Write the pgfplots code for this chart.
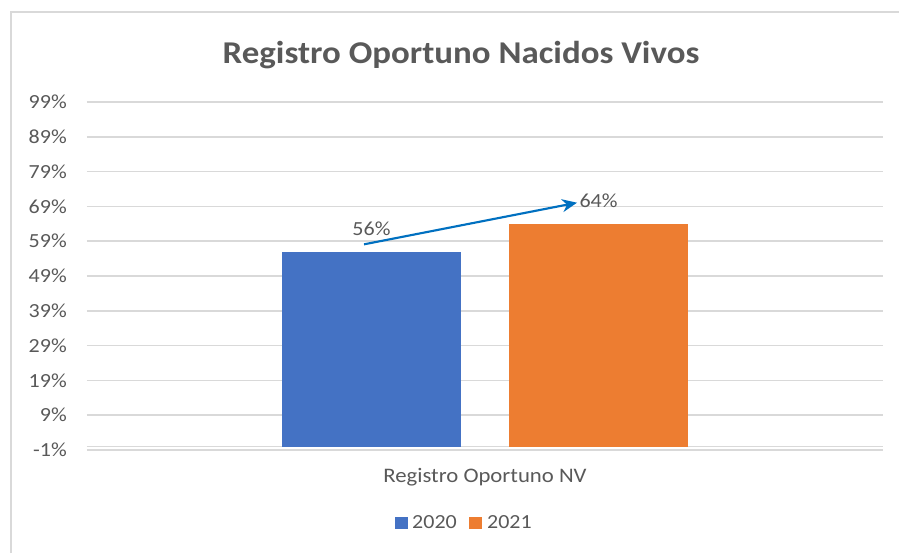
\documentclass[border=0pt]{standalone}
\usepackage{fontspec}
\setmainfont{Carlito}[FakeStretch=1.1]
\usepackage{pgfplots}
\pgfplotsset{compat=1.18}
\usetikzlibrary{arrows.meta}
\definecolor{txt}{HTML}{595959}
\definecolor{gridc}{HTML}{D9D9D9}
\definecolor{c20}{HTML}{4472C4}
\definecolor{c21}{HTML}{ED7D31}
\definecolor{arr}{HTML}{0070C0}
\pgfplotsset{mylegend/.style={legend image code/.code={\fill[##1] (0pt,-4.5pt) rectangle (9.75pt,4.5pt);}}}
\begin{document}
\begin{tikzpicture}
\useasboundingbox (0,0) rectangle (674.25pt,-414.75pt);
\draw[color=gridc, line width=1.125pt] (8.25pt,-414.75pt) -- (8.25pt,-9pt) -- (674.25pt,-9pt);
\node[anchor=base, font=\fontsize{23.8}{28}\selectfont\bfseries, text=txt, inner sep=0pt] at (345.75pt,-47.475pt) {Registro Oportuno Nacidos Vivos};
\begin{axis}[
  at={(65.25pt,-337.5pt)}, anchor=south west,
  scale only axis, width=597pt, height=261pt,
  xmin=-0.5, xmax=0.5, ymin=-1, ymax=99,
  axis line style={draw=none},
  major tick length=0pt,
  tick style={draw=none},
  ytick={-1,9,19,29,39,49,59,69,79,89,99},
  yticklabel={\pgfmathprintnumber{\tick}\%},
  /pgf/number format/assume math mode=true,
  yticklabel style={font=\fontsize{15}{18}\selectfont, text=txt, inner sep=0pt, xshift=-15pt},
  xtick={0}, xticklabels={Registro Oportuno NV},
  xticklabel style={font=\fontsize{15.5}{18}\selectfont, text=txt, anchor=base, inner sep=0pt, yshift=-24.2pt},
  ymajorgrids, grid style={color=gridc, line width=1.125pt},
  extra y ticks={0}, extra y tick labels={}, extra y tick style={grid=major},
  legend style={at={(0.4755,-0.2098)}, anchor=center, draw=none, fill=none,
    legend columns=2, font=\fontsize{15}{18}\selectfont, text=txt,
    nodes={inner xsep=3.5pt},
    /tikz/every even column/.append style={column sep=6pt},
    legend cell align=left},
  mylegend,
  clip=false,
]
\addplot[ybar, bar width=0.2249, bar shift=0pt, fill=c20, draw=none, mylegend,
  nodes near coords={\pgfmathprintnumber{\pgfplotspointmeta}\%},
  nodes near coords style={font=\fontsize{15}{18}\selectfont, text=txt, anchor=center, yshift=17.25pt}]
  coordinates {(-0.1426,56)};
\addlegendentry{2020}
\addplot[ybar, bar width=0.2249, bar shift=0pt, fill=c21, draw=none, mylegend,
  nodes near coords={\pgfmathprintnumber{\pgfplotspointmeta}\%},
  nodes near coords style={font=\fontsize{15}{18}\selectfont, text=txt, anchor=center, yshift=17.25pt}]
  coordinates {(0.1426,64)};
\addlegendentry{2021}
\draw[-{Stealth[length=11.25pt,width=9.75pt]}, color=arr, line width=1.6pt] (axis cs:-0.152,58.1) -- (axis cs:0.1156,70.06);
\end{axis}
\end{tikzpicture}
\end{document}
